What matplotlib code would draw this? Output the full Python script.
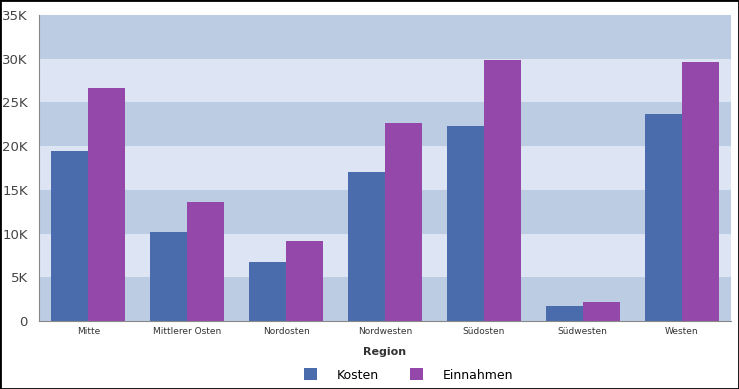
import matplotlib.pyplot as plt
import numpy as np
from matplotlib.patches import Rectangle

regions = ["Mitte", "Mittlerer Osten", "Nordosten", "Nordwesten",
           "Südosten", "Südwesten", "Westen"]
kosten = [19400, 10200, 6750, 17050, 22300, 1700, 23700]
einnahmen = [26650, 13600, 9150, 22650, 29850, 2150, 29600]
y_ticks = [0, 5000, 10000, 15000, 20000, 25000, 30000, 35000]
y_labels = ["0", "5K", "10K", "15K", "20K", "25K", "30K", "35K"]

fig = plt.figure(figsize=(7.39, 3.89), dpi=100)
fig.patch.set_facecolor("white")
fig.add_artist(Rectangle((0, 0), 1, 1, transform=fig.transFigure,
                         fill=False, edgecolor="black", linewidth=2))
ax = fig.add_axes([39 / 739, 1 - 321 / 389, 692 / 739, 306 / 389])

# alternating bands
for i in range(len(y_ticks) - 1):
    col = "#bccde3" if i % 2 == 0 else "#dde5f5"
    ax.axhspan(y_ticks[i], y_ticks[i + 1], color=col, zorder=0, linewidth=0)

x = np.arange(len(regions))
w = 0.375
ax.bar(x - w / 2, kosten, w, color="#4a6cad", label="Kosten", zorder=2)
ax.bar(x + w / 2, einnahmen, w, color="#9449aa", label="Einnahmen", zorder=2)

ax.set_xlim(-0.5, len(regions) - 0.5)
ax.set_ylim(0, 35000)
ax.set_yticks(y_ticks)
ax.set_yticklabels(y_labels, fontsize=9.5, color="#444444")
ax.set_xticks(x)
ax.set_xticklabels(regions, fontsize=6.5, color="#333333")
ax.tick_params(length=0, pad=4)
ax.tick_params(axis="y", pad=8)

for s in ["top", "right"]:
    ax.spines[s].set_visible(False)
ax.spines["left"].set_color("#888888")
ax.spines["bottom"].set_color("#888888")

ax.set_xlabel("Region", fontsize=8, fontweight="bold", color="#333333", labelpad=8)

fig.legend(*ax.get_legend_handles_labels(), loc="center",
           bbox_to_anchor=(0.553, 1 - 375 / 389), ncol=2, frameon=False,
           fontsize=9, handlelength=1.05, handleheight=1.05, columnspacing=2.5,
           handletextpad=1.6, borderpad=0)

fig.savefig("out.png", dpi=100)
